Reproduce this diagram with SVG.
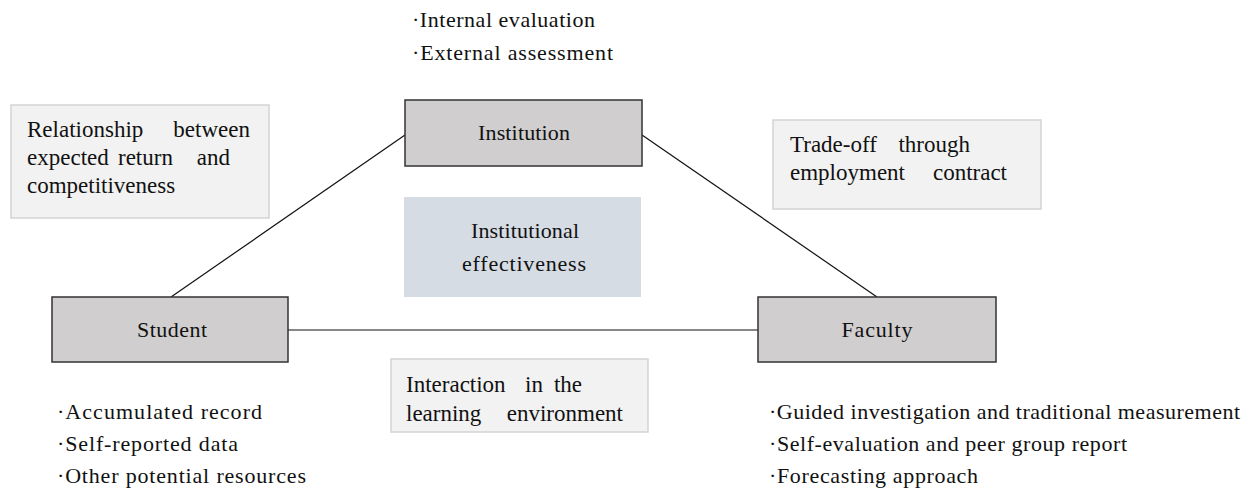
<svg xmlns="http://www.w3.org/2000/svg" width="1256" height="492" viewBox="0 0 1256 492">
<style>
text{font-family:'Liberation Serif','DejaVu Serif',serif;font-size:22px;fill:#111}
.nt{font-size:23px}
.node{fill:#d0cece;stroke:#333;stroke-width:1.5}
.note{fill:#f2f2f2;stroke:#d3d3d3;stroke-width:1.5}
.center{fill:#d6dce4}
.conn{stroke:#111;stroke-width:1.2;fill:none}
.mid{text-anchor:middle}
.end{text-anchor:end}
</style>
<rect width="1256" height="492" fill="#fff"/>
<g id="connectors">
<line class="conn" x1="405" y1="135" x2="171" y2="297"/>
<line class="conn" x1="642" y1="135" x2="877" y2="297"/>
<line class="conn" x1="288" y1="330" x2="758" y2="330"/>
</g>
<g id="institution">
<rect class="node" x="405" y="100" width="237" height="66"/>
<text class="mid" x="524" y="140" textLength="92" lengthAdjust="spacing">Institution</text>
</g>
<g id="institution-notes">
<text x="412" y="27" textLength="183" lengthAdjust="spacing">·Internal evaluation</text>
<text x="412" y="60" textLength="201" lengthAdjust="spacing">·External assessment</text>
</g>
<g id="student">
<rect class="node" x="52" y="297" width="236" height="65"/>
<text class="mid" x="172" y="337" textLength="70" lengthAdjust="spacing">Student</text>
</g>
<g id="student-notes">
<text x="57" y="419" textLength="205" lengthAdjust="spacing">·Accumulated record</text>
<text x="57" y="451" textLength="181" lengthAdjust="spacing">·Self-reported data</text>
<text x="57" y="483" textLength="249" lengthAdjust="spacing">·Other potential resources</text>
</g>
<g id="faculty">
<rect class="node" x="758" y="297" width="238" height="65"/>
<text class="mid" x="877" y="337" textLength="71" lengthAdjust="spacing">Faculty</text>
</g>
<g id="faculty-notes">
<text x="769" y="419" textLength="471" lengthAdjust="spacing">·Guided investigation and traditional measurement</text>
<text x="769" y="451" textLength="358" lengthAdjust="spacing">·Self-evaluation and peer group report</text>
<text x="769" y="483" textLength="209" lengthAdjust="spacing">·Forecasting approach</text>
</g>
<g id="relationship">
<rect class="note" x="11" y="105" width="258" height="113"/>
<text class="nt" x="27" y="137">Relationship</text>
<text class="nt end" x="250" y="137">between</text>
<text class="nt" x="27" y="165">expected</text>
<text class="nt" x="118" y="165">return</text>
<text class="nt end" x="230" y="165">and</text>
<text class="nt" x="27" y="193">competitiveness</text>
</g>
<g id="tradeoff">
<rect class="note" x="773" y="120" width="268" height="89"/>
<text class="nt" x="790" y="152">Trade-off</text>
<text class="nt end" x="970" y="152">through</text>
<text class="nt" x="790" y="180">employment</text>
<text class="nt end" x="1007" y="180">contract</text>
</g>
<g id="effectiveness">
<rect class="center" x="404" y="197" width="237" height="100"/>
<text class="mid" x="525" y="238" textLength="108" lengthAdjust="spacing">Institutional</text>
<text class="mid" x="524" y="271" textLength="124" lengthAdjust="spacing">effectiveness</text>
</g>
<g id="interaction">
<rect class="note" x="391" y="359" width="257" height="73"/>
<text class="nt" x="406" y="392">Interaction</text>
<text class="nt" x="525" y="392">in</text>
<text class="nt end" x="582" y="392">the</text>
<text class="nt" x="406" y="421">learning</text>
<text class="nt end" x="623" y="421">environment</text>
</g>
</svg>
